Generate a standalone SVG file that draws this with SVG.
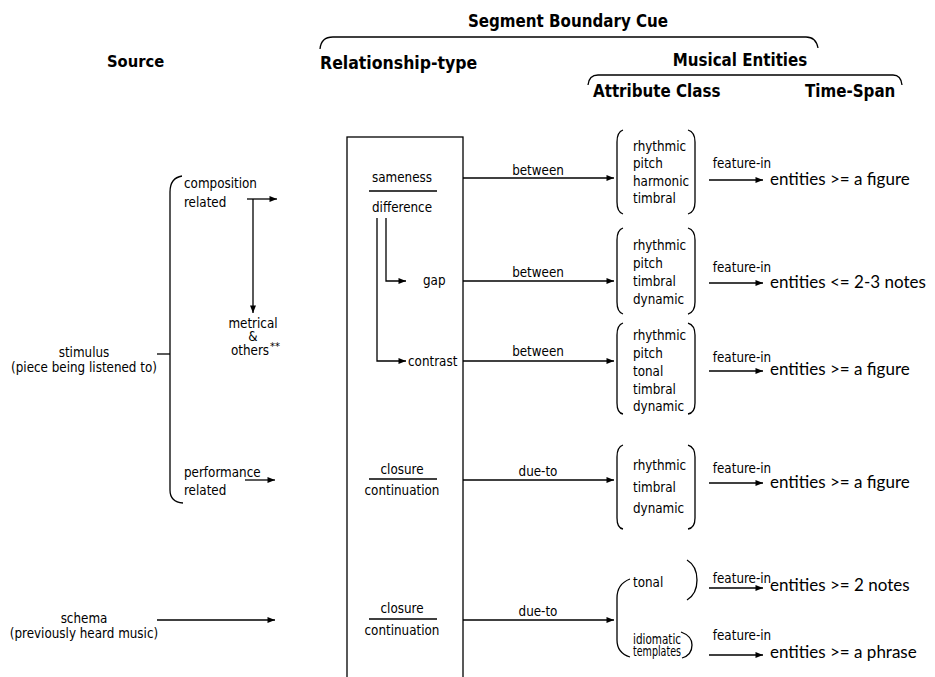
<svg xmlns="http://www.w3.org/2000/svg" width="935" height="677" viewBox="0 0 935 677">
<defs>
<marker id="ah" viewBox="0 0 10 8" refX="10" refY="4" markerWidth="8" markerHeight="6" markerUnits="userSpaceOnUse" orient="auto">
<path d="M0,0 L10,4 L0,8 z" fill="#000"/>
</marker>
<style>
text{font-family:"Liberation Sans Narrow","DejaVu Sans Condensed","Liberation Sans",sans-serif;fill:#000;font-size:13.3px}
.h{font-weight:bold;font-size:17px}
.hs{font-weight:bold;font-size:16.8px}
.m{text-anchor:middle}
.e{font-family:"Lato","Liberation Sans",sans-serif;font-size:17px;font-weight:normal}
.ln{fill:none;stroke:#000;stroke-width:1.3}
.ar{fill:none;stroke:#000;stroke-width:1.3;marker-end:url(#ah)}
</style>
</defs>
<g id="headers">
<text class="hs m" x="568" y="27">Segment Boundary Cue</text>
<path class="ln" d="M320,49 Q321,37 333,37 L806,37 Q816,37 818,48"/>
<text class="hs" x="107" y="67" style="font-size:16.4px">Source</text>
<text class="h" x="320" y="69" style="font-size:17.5px">Relationship-type</text>
<text class="hs m" x="740" y="66">Musical Entities</text>
<path class="ln" d="M588,85 Q589,75 598,75 L893,75 Q901,75 902,85"/>
<text class="hs" x="593" y="97">Attribute Class</text>
<text class="hs" x="805" y="97">Time-Span</text>
</g>
<g id="source-stimulus">
<text class="m" x="84" y="357">stimulus</text>
<text class="m" x="84" y="372">(piece being listened to)</text>
<path class="ln" d="M157,354 L170,354"/>
<path class="ln" d="M182,176 Q170,178 170,192 L170,490 Q170,502 183,503"/>
</g>
<g id="composition">
<text x="184" y="188">composition</text>
<text x="184" y="207">related</text>
</g>
<g id="metrical">
<text class="m" x="253" y="328">metrical</text>
<text class="m" x="253" y="341">&amp;</text>
<text class="m" x="250" y="355">others</text>
<text x="270" y="350" style="font-size:11px">**</text>
</g>
<g id="performance">
<text x="184" y="477">performance</text>
<text x="184" y="495">related</text>
</g>
<g id="schema">
<text class="m" x="84" y="623">schema</text>
<text class="m" x="84" y="638">(previously heard music)</text>
</g>
<g id="relationship-box">
<rect class="ln" x="347" y="137" width="116" height="560"/>
</g>
<g id="sameness">
<text class="m" x="402" y="182">sameness</text>
<path class="ln" d="M369,191 L437,191"/>
<text class="m" x="402" y="212">difference</text>
</g>
<g id="gap"><text x="423" y="285">gap</text></g>
<g id="contrast"><text x="408" y="366">contrast</text></g>
<g id="closure1">
<text class="m" x="402" y="474">closure</text>
<path class="ln" d="M369,479 L437,479"/>
<text class="m" x="402" y="495">continuation</text>
</g>
<g id="closure2">
<text class="m" x="402" y="613">closure</text>
<path class="ln" d="M369,619 L437,619"/>
<text class="m" x="402" y="635">continuation</text>
</g>
<g id="attr1">
<path class="ln" d="M623,130 Q617,132 617,142 L617,202 Q617,212 623,214 M688,130 Q695,132 695,142 L695,202 Q695,212 688,214"/>
<text x="633" y="151">rhythmic</text>
<text x="633" y="168">pitch</text>
<text x="633" y="186">harmonic</text>
<text x="633" y="203">timbral</text>
</g>
<g id="attr2">
<path class="ln" d="M623,228 Q617,230 617,240 L617,302 Q617,312 623,314 M688,228 Q695,230 695,240 L695,302 Q695,312 688,314"/>
<text x="633" y="250">rhythmic</text>
<text x="633" y="268">pitch</text>
<text x="633" y="286">timbral</text>
<text x="633" y="304">dynamic</text>
</g>
<g id="attr3">
<path class="ln" d="M623,323 Q617,325 617,335 L617,403 Q617,413 623,414 M688,323 Q695,325 695,335 L695,403 Q695,413 688,414"/>
<text x="633" y="340">rhythmic</text>
<text x="633" y="358">pitch</text>
<text x="633" y="376">tonal</text>
<text x="633" y="394">timbral</text>
<text x="633" y="411">dynamic</text>
</g>
<g id="attr4">
<path class="ln" d="M623,445 Q617,447 617,457 L617,518 Q617,528 623,529 M688,445 Q695,447 695,457 L695,518 Q695,528 688,529"/>
<text x="633" y="470">rhythmic</text>
<text x="633" y="492">timbral</text>
<text x="633" y="513">dynamic</text>
</g>
<g id="attr5">
<path class="ln" d="M630,579 Q617,584 617,598 L617,640 Q617,653 630,657"/>
<path class="ln" d="M687,560 Q697,566 697,580 Q697,594 687,600"/>
<text x="633" y="587">tonal</text>
<path class="ln" d="M681,632 Q692,636 692,645 Q692,655 682,658"/>
<text x="633" y="644" textLength="48" lengthAdjust="spacingAndGlyphs">idiomatic</text>
<text x="633" y="656" textLength="48" lengthAdjust="spacingAndGlyphs">templates</text>
</g>
<g id="timespans">
<text class="e" x="770" y="185">entities &gt;= a figure</text>
<text class="e" x="770" y="288">entities &lt;= 2-3 notes</text>
<text class="e" x="770" y="375">entities &gt;= a figure</text>
<text class="e" x="770" y="488">entities &gt;= a figure</text>
<text class="e" x="770" y="591">entities &gt;= 2 notes</text>
<text class="e" x="770" y="658">entities &gt;= a phrase</text>
</g>
<g id="connectors">
<path class="ar" d="M247,199 L277,199"/>
<path class="ar" d="M253,199 L253,313"/>
<path class="ar" d="M245,480 L275,480"/>
<path class="ar" d="M157,620 L275,620"/>
<path class="ar" d="M386,218 L386,281 L406,281"/>
<path class="ar" d="M377,218 L377,361 L406,361"/>
<path class="ar" d="M463,178 L614,178"/>
<path class="ar" d="M463,281 L614,281"/>
<path class="ar" d="M463,361 L614,361"/>
<path class="ar" d="M463,480 L614,480"/>
<path class="ar" d="M463,620 L614,620"/>
<path class="ar" d="M709,180 L763,180"/>
<path class="ar" d="M709,283 L763,283"/>
<path class="ar" d="M709,371 L763,371"/>
<path class="ar" d="M709,483 L763,483"/>
<path class="ar" d="M709,588 L763,588"/>
<path class="ar" d="M709,655 L763,655"/>
<text class="m" x="538" y="175">between</text>
<text class="m" x="538" y="277">between</text>
<text class="m" x="538" y="356">between</text>
<text class="m" x="538" y="476">due-to</text>
<text class="m" x="538" y="616">due-to</text>
<text class="m" x="742" y="168">feature-in</text>
<text class="m" x="742" y="272">feature-in</text>
<text class="m" x="742" y="362">feature-in</text>
<text class="m" x="742" y="473">feature-in</text>
<text class="m" x="742" y="583">feature-in</text>
<text class="m" x="742" y="640">feature-in</text>
</g>
</svg>
